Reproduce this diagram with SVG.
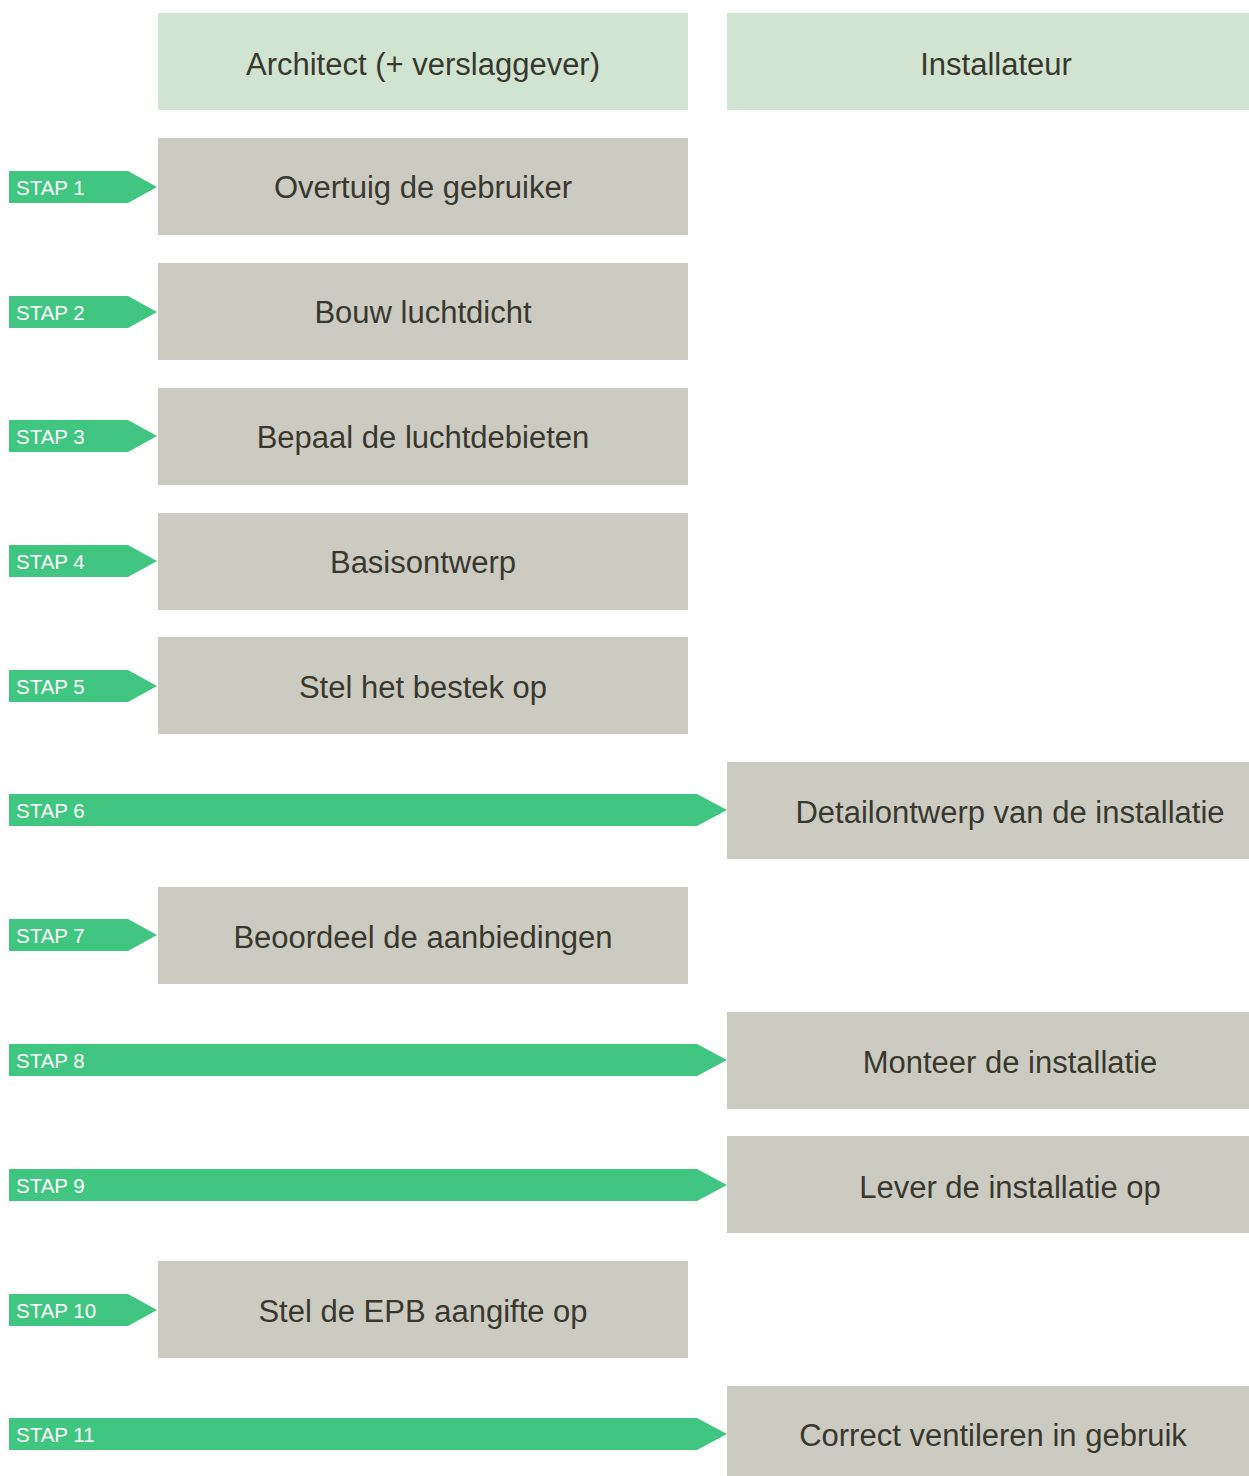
<svg xmlns="http://www.w3.org/2000/svg" width="1249" height="1476" viewBox="0 0 1249 1476">
<defs>
<style>
.hdr{fill:#d1e4d1}
.box{fill:#cccbc2}
.arr{fill:#40c680}
.lbl{font-family:"Liberation Sans",Arial,Helvetica,sans-serif;font-size:31px;fill:#38382f;text-anchor:middle}
.stp{font-family:"Liberation Sans",Arial,Helvetica,sans-serif;font-size:20.5px;fill:#ffffff}
</style>
</defs>
<rect width="1249" height="1476" fill="#ffffff"/>
<g id="header-architect"><rect class="hdr" x="158" y="13" width="530" height="97"/><text class="lbl" x="423" y="75">Architect (+ verslaggever)</text></g>
<g id="header-installateur"><rect class="hdr" x="727" y="13" width="522" height="97"/><text class="lbl" x="996" y="75">Installateur</text></g>

<g id="connectors">
<polygon class="arr" points="9,171 128,171 157,187 128,203 9,203"/>
<polygon class="arr" points="9,296 128,296 157,312 128,328 9,328"/>
<polygon class="arr" points="9,420 128,420 157,436 128,452 9,452"/>
<polygon class="arr" points="9,545 128,545 157,561 128,577 9,577"/>
<polygon class="arr" points="9,670 128,670 157,686 128,702 9,702"/>
<polygon class="arr" points="9,794 697,794 727,810 697,826 9,826"/>
<polygon class="arr" points="9,919 128,919 157,935 128,951 9,951"/>
<polygon class="arr" points="9,1044 697,1044 727,1060 697,1076 9,1076"/>
<polygon class="arr" points="9,1169 697,1169 727,1185 697,1201 9,1201"/>
<polygon class="arr" points="9,1294 128,1294 157,1310 128,1326 9,1326"/>
<polygon class="arr" points="9,1418 697,1418 727,1434 697,1450 9,1450"/>
<text class="stp" x="16" y="195">STAP 1</text>
<text class="stp" x="16" y="320">STAP 2</text>
<text class="stp" x="16" y="444">STAP 3</text>
<text class="stp" x="16" y="569">STAP 4</text>
<text class="stp" x="16" y="694">STAP 5</text>
<text class="stp" x="16" y="818">STAP 6</text>
<text class="stp" x="16" y="943">STAP 7</text>
<text class="stp" x="16" y="1068">STAP 8</text>
<text class="stp" x="16" y="1193">STAP 9</text>
<text class="stp" x="16" y="1318">STAP 10</text>
<text class="stp" x="16" y="1442">STAP 11</text>
</g>

<g id="step1"><rect class="box" x="158" y="138" width="530" height="97"/><text class="lbl" x="423" y="198">Overtuig de gebruiker</text></g>
<g id="step2"><rect class="box" x="158" y="263" width="530" height="97"/><text class="lbl" x="423" y="323">Bouw luchtdicht</text></g>
<g id="step3"><rect class="box" x="158" y="388" width="530" height="97"/><text class="lbl" x="423" y="448">Bepaal de luchtdebieten</text></g>
<g id="step4"><rect class="box" x="158" y="513" width="530" height="97"/><text class="lbl" x="423" y="573">Basisontwerp</text></g>
<g id="step5"><rect class="box" x="158" y="637" width="530" height="97"/><text class="lbl" x="423" y="698">Stel het bestek op</text></g>
<g id="step6"><rect class="box" x="727" y="762" width="522" height="97"/><text class="lbl" x="1010" y="823">Detailontwerp van de installatie</text></g>
<g id="step7"><rect class="box" x="158" y="887" width="530" height="97"/><text class="lbl" x="423" y="948">Beoordeel de aanbiedingen</text></g>
<g id="step8"><rect class="box" x="727" y="1012" width="522" height="97"/><text class="lbl" x="1010" y="1073">Monteer de installatie</text></g>
<g id="step9"><rect class="box" x="727" y="1136" width="522" height="97"/><text class="lbl" x="1010" y="1198">Lever de installatie op</text></g>
<g id="step10"><rect class="box" x="158" y="1261" width="530" height="97"/><text class="lbl" x="423" y="1322">Stel de EPB aangifte op</text></g>
<g id="step11"><rect class="box" x="727" y="1386" width="522" height="97"/><text class="lbl" x="993" y="1446">Correct ventileren in gebruik</text></g>
</svg>
